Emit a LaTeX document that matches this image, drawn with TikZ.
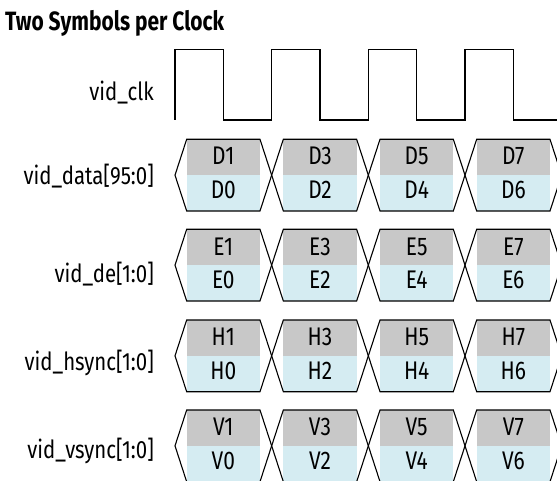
\documentclass[tikz,border=0pt]{standalone}
\usepackage{fontspec}
\setmainfont{Fira Sans}[FakeStretch=0.816]
\newfontfamily\cellfont{Fira Sans}[FakeStretch=0.82]
\newfontfamily\ttlfont{Fira Sans}[FakeStretch=0.79]
\definecolor{cellgray}{RGB}{200,200,200}
\definecolor{cellblue}{RGB}{213,236,242}
\begin{document}
\begin{tikzpicture}[x=1pt,y=-1pt,
  sig/.style={line width=1.1pt, draw=black, line join=miter},
  lbl/.style={anchor=base east, inner sep=0pt, font=\fontsize{25}{26}\selectfont},
  cell/.style={anchor=base, inner sep=0pt, font=\cellfont\fontsize{25.5}{26}\selectfont},
  ttl/.style={anchor=base west, inner sep=0pt, font=\ttlfont\bfseries\fontsize{26.5}{28}\selectfont}]
\useasboundingbox (0,0) rectangle (557,481);
\clip (0,0) rectangle (557,481);
\node[ttl] (title) at (5,30.7) {Two Symbols per Clock};
% clock
\node[lbl] (lblclk) at (154,100.7) {vid\_clk};
\draw[sig] (175,120) |- (223.33,49.3) |- (271.67,120) |- (320,49.3) |- (368.33,120)
  |- (416.67,49.3) |- (465,120) |- (513.33,49.3) |- (557,120);
% buses
\foreach \r/\T/\L/\bl in {D/139.3/vid\_data[95:0]/184.3, E/229.3/vid\_de[1:0]/282, H/320/vid\_hsync[1:0]/370, V/410/vid\_vsync[1:0]/458} {
  \pgfmathsetmacro\B{\T+71.7}
  \pgfmathsetmacro\M{\T+35.85}
  \node[lbl] (lbl\r) at (154,\bl) {\L};
  \foreach \k in {0,...,3} {
    \pgfmathsetmacro\xs{175+96.667*\k}
    \pgfmathsetmacro\xe{\xs+96.667}
    \pgfmathtruncatemacro\up{2*\k+1}
    \pgfmathtruncatemacro\dn{2*\k}
    \fill[cellgray] (\xs+11.67,\T) rectangle (\xe-11.67,\M);
    \fill[cellblue] (\xs+11.67,\M) rectangle (\xe-11.67,\B);
    \draw[sig] (\xs,\M) -- (\xs+11.67,\T) -- (\xe-11.67,\T) -- (\xe,\M)
      -- (\xe-11.67,\B) -- (\xs+11.67,\B) -- cycle;
    \node[cell] (\r\up) at ({(\xs+\xe)/2},\T+25.7) {\r\up};
    \node[cell] (\r\dn) at ({(\xs+\xe)/2},\T+59) {\r\dn};
  }
}
\end{tikzpicture}
\end{document}
